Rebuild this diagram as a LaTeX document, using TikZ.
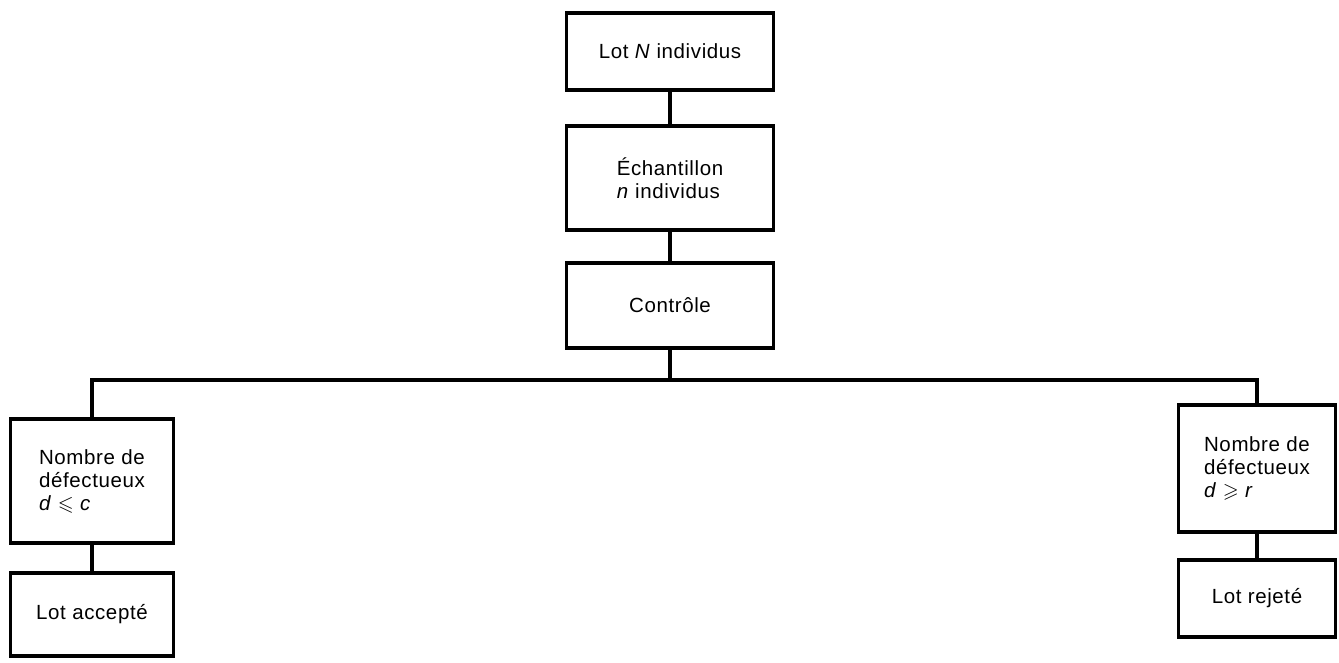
\documentclass[tikz,border=0pt]{standalone}
\usepackage{amssymb}
\usepackage{fontspec}
\setmainfont{Liberation Sans}[LetterSpace=3]
\begin{document}
\begin{tikzpicture}[x=1pt,y=-1pt,
  box/.style={draw, line width=3.6pt, rectangle, inner sep=0pt, align=left,
    font=\fontsize{20.5}{23}\selectfont},
  conn/.style={line width=3.4pt}]
\useasboundingbox (0,0) rectangle (1339,662);
\node[box, minimum width=207pt, minimum height=77pt] (lot) at (670,51.5) {Lot \textit{N} individus};
\node[box, minimum width=207pt, minimum height=104pt] (ech) at (670,178) {Échantillon\\\textit{n} individus};
\node[box, minimum width=207pt, minimum height=85pt] (ctrl) at (670,305.5) {Contrôle};
\node[box, minimum width=163pt, minimum height=124pt] (nl) at (92,481) {Nombre de\\défectueux\\\textit{d} $\leqslant$ \textit{c}};
\node[box, minimum width=163pt, minimum height=83pt] (acc) at (92,614.5) {Lot accepté};
\node[box, minimum width=157pt, minimum height=127pt] (nr) at (1257,468.5) {Nombre de\\défectueux\\\textit{d} $\geqslant$ \textit{r}};
\node[box, minimum width=157pt, minimum height=77pt] (rej) at (1257,598.5) {Lot rejeté};
\coordinate (bus) at (670,380);
\draw[conn] (lot.south) -- (ech.north);
\draw[conn] (ech.south) -- (ctrl.north);
\draw[conn] (ctrl.south) -- (bus);
\draw[conn] (nl.north) -- (nl.north |- bus) -- (nr.north |- bus) -- (nr.north);
\draw[conn] (nl.south) -- (acc.north);
\draw[conn] (nr.south) -- (rej.north);
\end{tikzpicture}
\end{document}
